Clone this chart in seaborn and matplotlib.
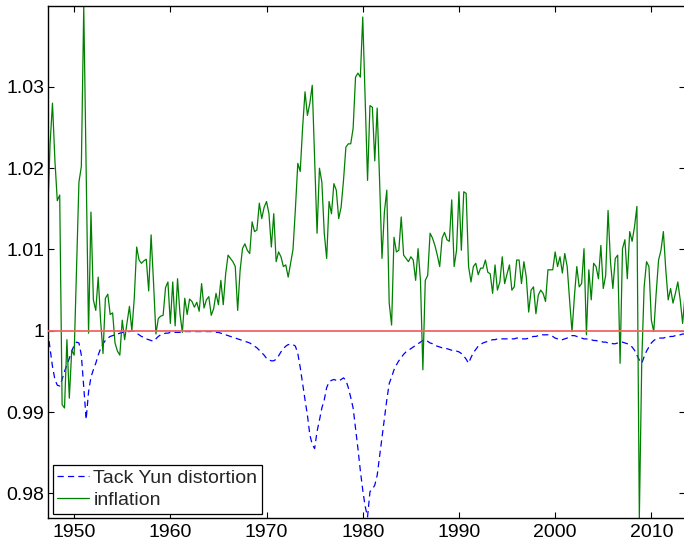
import numpy as np
import pandas as pd
import matplotlib
matplotlib.use("Agg")
import matplotlib.pyplot as plt
from matplotlib.ticker import FuncFormatter
import seaborn as sns

# ---------------- data (quarterly, first observation 1947.25) ----------------
start_year = 1947.25
step = 0.25

inflation_1940s = [1.0144, 1.0230, 1.0280,
                   1.0210, 1.0160, 1.0167, 0.9909,
                   0.9905, 0.9989, 0.9917, 0.9976]
inflation_1950s = [0.9970, 1.0075, 1.0183, 1.0202,
                   1.0399, 1.0200, 0.9997, 1.0146,
                   1.0038, 1.0025, 1.0066, 1.0013,
                   0.9972, 1.0040, 1.0045, 1.0020,
                   1.0022, 0.9985, 0.9975, 0.9970,
                   1.0013, 0.9989, 1.0010, 1.0030,
                   1.0000, 1.0040, 1.0103, 1.0087,
                   1.0083, 1.0086, 1.0088, 1.0049,
                   1.0118, 1.0060, 0.9996, 1.0015,
                   1.0018, 1.0019, 1.0053, 1.0060]
inflation_1960s = [1.0009, 1.0060, 1.0006, 1.0064,
                   1.0021, 0.9998, 1.0040, 1.0020,
                   1.0039, 1.0036, 1.0029, 1.0035,
                   1.0024, 1.0058, 1.0028, 1.0038,
                   1.0042, 1.0019, 1.0027, 1.0046,
                   1.0032, 1.0062, 1.0032, 1.0070,
                   1.0093, 1.0089, 1.0085, 1.0079,
                   1.0025, 1.0074, 1.0101, 1.0107,
                   1.0099, 1.0095, 1.0134, 1.0122,
                   1.0124, 1.0157, 1.0138, 1.0152]
inflation_1970s = [1.0159, 1.0144, 1.0103, 1.0144,
                   1.0085, 1.0097, 1.0091, 1.0079,
                   1.0081, 1.0066, 1.0083, 1.0100,
                   1.0150, 1.0206, 1.0196, 1.0250,
                   1.0294, 1.0265, 1.0280, 1.0302,
                   1.0210, 1.0120, 1.0200, 1.0183,
                   1.0120, 1.0089, 1.0159, 1.0144,
                   1.0181, 1.0173, 1.0138, 1.0152,
                   1.0185, 1.0226, 1.0230, 1.0230,
                   1.0249, 1.0312, 1.0317, 1.0312]
inflation_1980s = [1.0386, 1.0287, 1.0185, 1.0277,
                   1.0275, 1.0209, 1.0274, 1.0185,
                   1.0089, 1.0146, 1.0173, 1.0034,
                   1.0007, 1.0115, 1.0097, 1.0099,
                   1.0140, 1.0093, 1.0089, 1.0085,
                   1.0091, 1.0087, 1.0062, 1.0101,
                   1.0062, 0.9952, 1.0062, 1.0068,
                   1.0120, 1.0114, 1.0105, 1.0093,
                   1.0079, 1.0114, 1.0121, 1.0112,
                   1.0110, 1.0161, 1.0079, 1.0099]
inflation_1990s = [1.0171, 1.0099, 1.0171, 1.0169,
                   1.0079, 1.0060, 1.0079, 1.0083,
                   1.0069, 1.0077, 1.0077, 1.0087,
                   1.0072, 1.0070, 1.0046, 1.0081,
                   1.0050, 1.0060, 1.0091, 1.0058,
                   1.0070, 1.0081, 1.0050, 1.0054,
                   1.0087, 1.0087, 1.0058, 1.0085,
                   1.0066, 1.0023, 1.0050, 1.0054,
                   1.0021, 1.0044, 1.0050, 1.0046,
                   1.0036, 1.0075, 1.0075, 1.0075]
inflation_2000s = [1.0097, 1.0079, 1.0091, 1.0071,
                   1.0095, 1.0079, 1.0038, 0.9999,
                   1.0042, 1.0079, 1.0054, 1.0058,
                   1.0101, 0.9995, 1.0075, 1.0038,
                   1.0083, 1.0079, 1.0064, 1.0105,
                   1.0052, 1.0068, 1.0148, 1.0085,
                   1.0052, 1.0089, 1.0093, 0.9960,
                   1.0101, 1.0112, 1.0064, 1.0122,
                   1.0110, 1.0128, 1.0153, 0.9769,
                   0.9961, 1.0054, 1.0085, 1.0079]
inflation_2010s = [1.0013, 0.9999, 1.0046, 1.0087,
                   1.0099, 1.0122, 1.0075, 1.0038,
                   1.0052, 1.0034, 1.0046, 1.0060,
                   1.0038, 1.0009, 1.0044]

distortion_1940s = [1.0000, 0.9978, 0.9956,
                    0.9940, 0.9933, 0.9932, 0.9940,
                    0.9950, 0.9958, 0.9966, 0.9975]
distortion_1950s = [0.9982, 0.9986, 0.9985, 0.9970,
                    0.9930, 0.9891, 0.9925, 0.9943,
                    0.9952, 0.9960, 0.9970, 0.9978,
                    0.9984, 0.9988, 0.9991, 0.9993,
                    0.9994, 0.9995, 0.9996, 0.9997,
                    0.9998, 0.9998, 0.9999, 0.9999,
                    1.0000, 0.9999, 0.9997, 0.9995,
                    0.9993, 0.9992, 0.9990, 0.9989,
                    0.9988, 0.9987, 0.9990, 0.9993,
                    0.9995, 0.9996, 0.9997, 0.9997]
distortion_1960s = [0.9998, 0.9998, 0.9998, 0.9998,
                    0.9998, 0.9999, 0.9999, 0.9999,
                    0.9999, 0.9999, 0.9999, 0.9999,
                    0.9999, 0.9999, 0.9999, 0.9999,
                    0.9999, 0.9999, 0.9998, 0.9998,
                    0.9998, 0.9997, 0.9996, 0.9995,
                    0.9994, 0.9993, 0.9992, 0.9991,
                    0.9990, 0.9989, 0.9988, 0.9987,
                    0.9986, 0.9985, 0.9983, 0.9981,
                    0.9979, 0.9976, 0.9973, 0.9970]
distortion_1970s = [0.9966, 0.9964, 0.9963, 0.9963,
                    0.9965, 0.9969, 0.9974, 0.9978,
                    0.9981, 0.9983, 0.9983, 0.9983,
                    0.9981, 0.9972, 0.9955, 0.9935,
                    0.9915, 0.9896, 0.9872, 0.9860,
                    0.9855, 0.9876, 0.9890, 0.9905,
                    0.9915, 0.9930, 0.9937, 0.9939,
                    0.9940, 0.9939, 0.9938, 0.9940,
                    0.9942, 0.9939, 0.9930, 0.9918,
                    0.9905, 0.9880, 0.9855, 0.9828]
distortion_1980s = [0.9804, 0.9784, 0.9771, 0.9802,
                    0.9805, 0.9810, 0.9822, 0.9845,
                    0.9868, 0.9890, 0.9915, 0.9935,
                    0.9943, 0.9952, 0.9958, 0.9963,
                    0.9967, 0.9971, 0.9974, 0.9976,
                    0.9978, 0.9980, 0.9982, 0.9984,
                    0.9986, 0.9988, 0.9989, 0.9987,
                    0.9985, 0.9984, 0.9982, 0.9981,
                    0.9980, 0.9979, 0.9978, 0.9978,
                    0.9977, 0.9976, 0.9976, 0.9975]
distortion_1990s = [0.9974, 0.9972, 0.9969, 0.9965,
                    0.9960, 0.9967, 0.9973, 0.9977,
                    0.9981, 0.9983, 0.9985, 0.9986,
                    0.9987, 0.9988, 0.9989, 0.9989,
                    0.9990, 0.9990, 0.9990, 0.9990,
                    0.9990, 0.9990, 0.9990, 0.9990,
                    0.9991, 0.9991, 0.9990, 0.9990,
                    0.9990, 0.9991, 0.9992, 0.9993,
                    0.9993, 0.9994, 0.9995, 0.9995,
                    0.9995, 0.9995, 0.9994, 0.9993]
distortion_2000s = [0.9991, 0.9990, 0.9989, 0.9989,
                    0.9990, 0.9991, 0.9993, 0.9994,
                    0.9994, 0.9993, 0.9992, 0.9991,
                    0.9990, 0.9990, 0.9989, 0.9989,
                    0.9988, 0.9988, 0.9987, 0.9987,
                    0.9986, 0.9986, 0.9985, 0.9985,
                    0.9984, 0.9984, 0.9985, 0.9986,
                    0.9986, 0.9985, 0.9984, 0.9982,
                    0.9980, 0.9976, 0.9970, 0.9964,
                    0.9960, 0.9968, 0.9975, 0.9980]
distortion_2010s = [0.9985, 0.9988, 0.9990, 0.9991,
                    0.9991, 0.9991, 0.9992, 0.9992,
                    0.9993, 0.9993, 0.9994, 0.9994,
                    0.9995, 0.9996, 0.9996]

reference_level = 1.0
x_ticks = [1950, 1960, 1970, 1980, 1990, 2000, 2010]
y_ticks = [0.98, 0.99, 1.00, 1.01, 1.02, 1.03]
label_distortion = "Tack Yun distortion"
label_inflation = "inflation"

inflation = (inflation_1940s + inflation_1950s + inflation_1960s + inflation_1970s
             + inflation_1980s + inflation_1990s + inflation_2000s + inflation_2010s)
distortion = (distortion_1940s + distortion_1950s + distortion_1960s + distortion_1970s
              + distortion_1980s + distortion_1990s + distortion_2000s + distortion_2010s)
assert len(inflation) == len(distortion), (len(inflation), len(distortion))
years = start_year + step * np.arange(len(inflation))
df = pd.DataFrame({"year": years, "inflation": inflation, "distortion": distortion})

# ---------------- style ----------------
sns.set_style("ticks")
plt.rcParams["font.family"] = ["Liberation Sans", "DejaVu Sans"]
plt.rcParams["lines.scale_dashes"] = False

fig = plt.figure(figsize=(6.84, 5.44), dpi=100)
ax = fig.add_axes([0.0697, 0.0469, 0.9318, 0.9412])

sns.lineplot(data=df, x="year", y="distortion", ax=ax, color="#0000ff",
             linewidth=0.9, label=label_distortion)
sns.lineplot(data=df, x="year", y="inflation", ax=ax, color="#008000",
             linewidth=0.9, label=label_inflation)
ax.lines[0].set_dashes([4.5, 3.0])
ax.axhline(reference_level, color="#f06464", linewidth=1.3, zorder=5)

ax.set_xlim(years[0], years[-1])
lo = min(df["inflation"].min(), df["distortion"].min())
hi = max(df["inflation"].max(), df["distortion"].max())
ax.set_ylim(lo, hi)
ax.set_xticks(x_ticks)
ax.set_yticks(y_ticks)
ax.yaxis.set_major_formatter(FuncFormatter(lambda v, p: f"{v:g}"))
ax.set_xlabel("")
ax.set_ylabel("")

ax.tick_params(axis="both", direction="in", top=True, right=True, length=4,
               width=0.8, labelsize=14, colors="black")
ax.tick_params(axis="y", pad=2.5)
ax.tick_params(axis="x", pad=4)
for s in ax.spines.values():
    s.set_visible(True)
    s.set_linewidth(1.0)
    s.set_color("black")

leg = ax.legend(loc="lower left", frameon=True, fancybox=False, edgecolor="black",
                framealpha=1, fontsize=14, handlelength=1.65, handletextpad=0.2,
                labelspacing=0.2, borderpad=0.25, borderaxespad=0.25)
leg.get_frame().set_linewidth(0.9)
leg.legend_handles[0].set_dashes([4.5, 3.0])

fig.savefig("out.png", dpi=100)
